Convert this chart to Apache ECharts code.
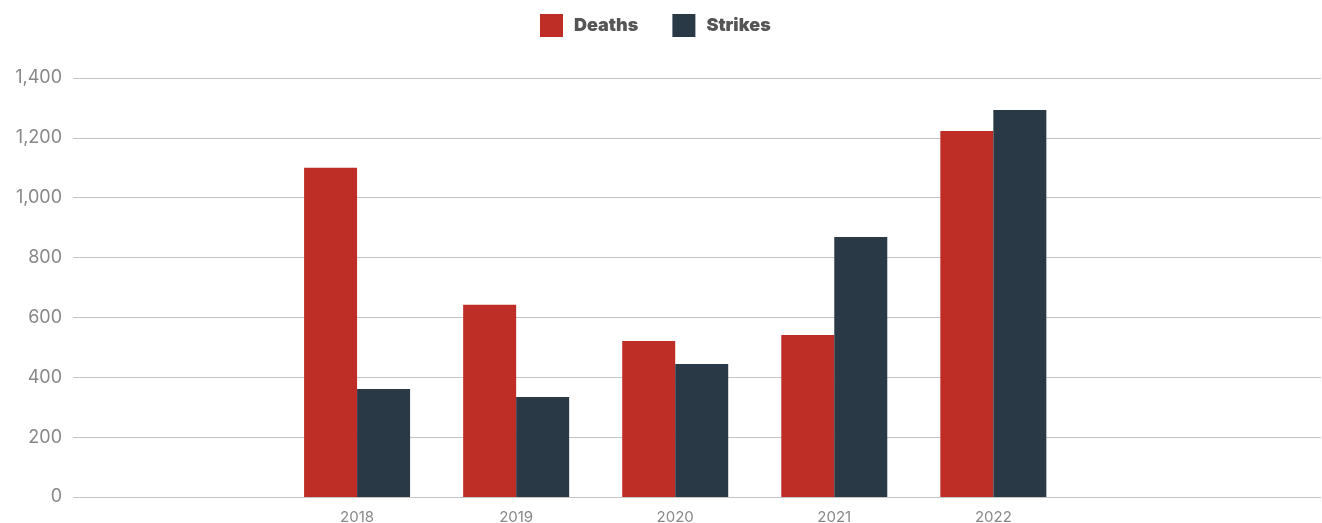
<!DOCTYPE html>
<html>
<head>
<meta charset="utf-8">
<script src="https://cdn.jsdelivr.net/npm/echarts@6/dist/echarts.min.js"></script>
<style>
  html, body { margin: 0; padding: 0; background: #fff; }
  #main { width: 1322px; height: 523px; }
</style>
</head>
<body>
<div id="main"></div>
<script>
  let years = [2018, 2019, 2020, 2021, 2022]
  let deaths = [1100, 642, 521, 541, 1223]
  let strikes = [361, 334, 444, 869, 1293]

  let myChart = echarts.init(document.getElementById('main'))

  let pair = (vals) => years.map((y, i) => [y, vals[i]])

  let option = {
    animation: false,
    textStyle: { fontFamily: 'Inter, Roboto, sans-serif' },
    legend: {
      top: 9,
      left: 535,
      itemWidth: 23,
      itemHeight: 23,
      itemGap: 34,
      icon: 'rect',
      textStyle: {
        fontSize: 18,
        fontWeight: 900,
        color: '#555',
        padding: [0, 0, 0, 6]
      },
      data: ['Deaths', 'Strikes']
    },
    grid: { left: 73, right: 1, top: 78, bottom: 26, containLabel: false, outerBoundsMode: 'none' },
    xAxis: {
      type: 'value',
      min: 2016.214,
      max: 2024.06,
      splitLine: { show: false },
      axisLine: { show: false },
      axisTick: { show: false },
      axisLabel: {
        customValues: years,
        color: '#888',
        fontSize: 15,
        margin: 13,
        formatter: (v) => String(v)
      }
    },
    yAxis: {
      type: 'value',
      min: 0,
      max: 1400,
      interval: 200,
      axisLine: { show: false },
      axisTick: { show: false },
      splitLine: { lineStyle: { color: '#c4c4c4', width: 1 } },
      axisLabel: {
        color: '#888',
        fontSize: 18,
        margin: 11,
        formatter: (v) => v.toLocaleString('en-US')
      }
    },
    series: [
      {
        name: 'Deaths',
        type: 'bar',
        barWidth: 53,
        barGap: '0%',
        itemStyle: { color: '#BF2E26' },
        data: pair(deaths)
      },
      {
        name: 'Strikes',
        type: 'bar',
        barWidth: 53,
        barGap: '0%',
        itemStyle: { color: '#2A3946' },
        data: pair(strikes)
      }
    ]
  }

  myChart.setOption(option)
</script>
</body>
</html>
